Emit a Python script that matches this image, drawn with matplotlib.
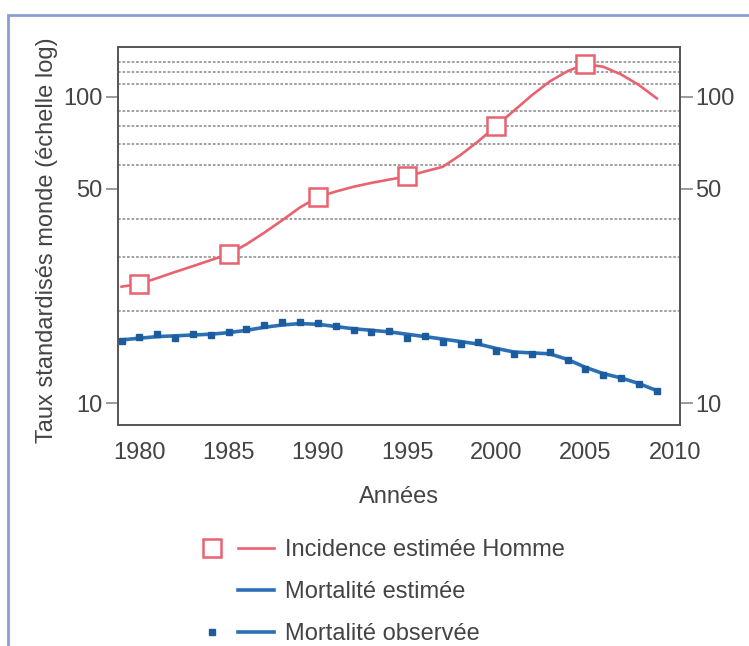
import matplotlib
matplotlib.use("Agg")
import matplotlib.pyplot as plt
from matplotlib.lines import Line2D
from matplotlib.patches import Rectangle
from matplotlib.legend_handler import HandlerTuple
from matplotlib.ticker import FixedLocator, FixedFormatter, NullFormatter

plt.rcParams['font.family'] = ['Liberation Sans', 'DejaVu Sans']

# incidence estimée (homme)
inc_years = list(range(1979, 2010))
inc_values = [24.0, 24.5, 25.6, 26.8, 28.0, 29.3, 30.6, 33.0, 36.0, 39.5,
              43.5, 47.0, 49.0, 50.8, 52.3, 53.6, 54.9, 57.0, 59.0, 64.5,
              71.5, 80.2, 90.0, 101.0, 112.0, 121.0, 127.6, 125.0, 118.0,
              109.0, 98.6]
# carrés tous les 5 ans
inc_mark_years = [1980, 1985, 1990, 1995, 2000, 2005]
inc_mark_values = [24.5, 30.6, 47.0, 54.9, 80.2, 127.6]

# mortalité
mort_years = list(range(1979, 2010))
mort_observed = [16.0, 16.4, 16.8, 16.3, 16.8, 16.7, 17.1, 17.5, 18.0, 18.4,
                 18.4, 18.3, 17.9, 17.4, 17.1, 17.2, 16.3, 16.55, 15.9, 15.6,
                 15.8, 14.8, 14.5, 14.5, 14.65, 13.8, 12.9, 12.35, 12.05,
                 11.55, 10.97]
mort_estimated = [16.1, 16.3, 16.5, 16.6, 16.7, 16.8, 17.0, 17.3, 17.7, 18.0,
                  18.2, 18.1, 17.8, 17.5, 17.3, 17.1, 16.8, 16.5, 16.2, 15.9,
                  15.6, 15.1, 14.7, 14.6, 14.5, 13.9, 13.1, 12.5, 12.1, 11.6,
                  11.0]

x_ticks = [1980, 1985, 1990, 1995, 2000, 2005, 2010]
y_ticks = [10, 50, 100]
y_grid = [10, 20, 30, 40, 50, 60, 70, 80, 90, 100, 110, 120, 130]

red = '#e8636f'
blue = '#2b70b4'
blue_dark = '#1c5c9e'
text_col = '#444444'
fs = 17

fig = plt.figure(figsize=(7.49, 6.46), dpi=100)
ax = fig.add_axes([118 / 749, 1 - 425 / 646, 562 / 749, 378 / 646])

ax.plot(inc_years, inc_values, color=red, lw=1.9, zorder=3)
ax.plot(inc_mark_years, inc_mark_values, ls='none', marker='s', ms=12.5,
        mfc='white', mec=red, mew=1.8, zorder=4)
ax.plot(mort_years, mort_estimated, color=blue, lw=2.6, zorder=3)
ax.plot(mort_years, mort_observed, ls='none', marker='s', ms=3.8,
        color=blue_dark, zorder=4)

ax.set_yscale('log')
ax.set_ylim(8.5, 145)
ax.set_xlim(1978.8, 2010.3)

ax.yaxis.set_major_locator(FixedLocator(y_ticks))
ax.yaxis.set_major_formatter(FixedFormatter([str(v) for v in y_ticks]))
ax.yaxis.set_minor_locator(FixedLocator(y_grid))
ax.yaxis.set_minor_formatter(NullFormatter())
ax.set_xticks(x_ticks)

ax.grid(True, which='minor', axis='y', color='#9a9a9a', ls=(0, (1.5, 1)), lw=1.3)
ax.tick_params(axis='y', which='major', length=9, width=1.2, color='#8a8a8a',
               right=True, labelright=True, labelsize=fs, labelcolor=text_col, pad=2)
ax.tick_params(axis='y', which='minor', length=0)
ax.tick_params(axis='x', length=0, labelsize=fs, labelcolor=text_col, pad=12)

for s in ax.spines.values():
    s.set_color('#555555')
    s.set_linewidth(1.4)

ax.set_xlabel('Années', fontsize=fs, color=text_col, labelpad=16)
ax.set_ylabel('Taux standardisés monde (échelle log)', fontsize=fs, color=text_col)
ax.yaxis.set_label_coords(-0.107, 0.49)

# légende sous le graphique
h_inc = (Line2D([], [], ls='none', marker='s', ms=12.5, mfc='white', mec=red, mew=1.8),
         Line2D([], [], color=red, lw=1.9))
h_est = (Line2D([], [], ls='none', marker=None),
         Line2D([], [], color=blue, lw=2.6))
h_obs = (Line2D([], [], ls='none', marker='s', ms=3.8, color=blue_dark),
         Line2D([], [], color=blue, lw=2.6))
leg = fig.legend([h_inc, h_est, h_obs],
                 ['Incidence estimée Homme', 'Mortalité estimée', 'Mortalité observée'],
                 handler_map={tuple: HandlerTuple(ndivide=None, pad=0.34)},
                 loc='upper left', bbox_to_anchor=(182 / 749, 1 - 527 / 646),
                 frameon=False, fontsize=fs, handlelength=3.4, handletextpad=0.45,
                 labelspacing=0.85, borderpad=0)
for t in leg.get_texts():
    t.set_color(text_col)

# cadre bleu autour de la figure
fig.add_artist(Rectangle((8 / 749, -0.1), 1.2, 1 - 15 / 646 + 0.1,
                         transform=fig.transFigure, fill=False,
                         ec='#8a9ed2', lw=2))

fig.savefig('out.png', dpi=100)
